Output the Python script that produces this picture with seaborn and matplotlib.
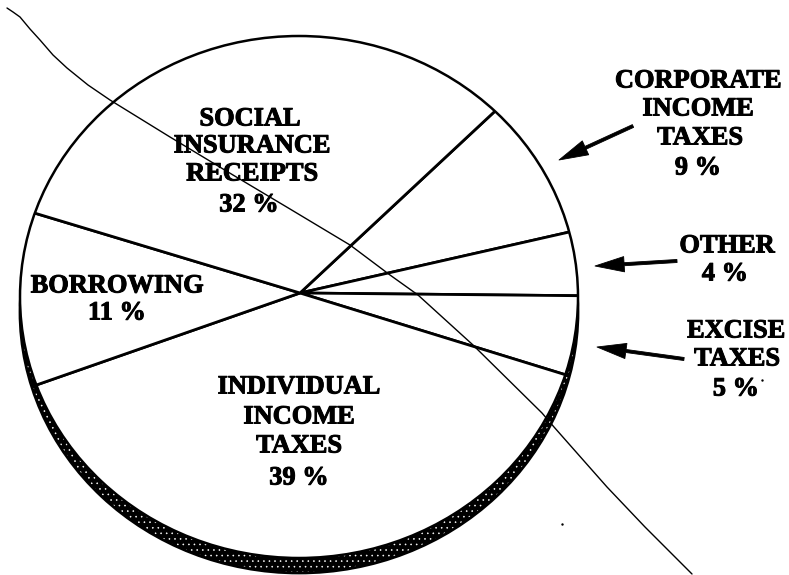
import numpy as np
import pandas as pd
import matplotlib
matplotlib.use('Agg')
import matplotlib.pyplot as plt
import matplotlib.patheffects as pe
from matplotlib.patches import Ellipse
import seaborn as sns

W, H = 789, 575

# slice shares as drawn (the printed labels round these off)
categories = ['Corporate income taxes', 'Other', 'Excise taxes',
              'Individual income taxes', 'Borrowing', 'Social insurance receipts']
drawn_shares = [8.4, 3.7, 4.6, 39.9, 10.0, 33.4]

# stray line running across the page
line_x = [7, 13, 20, 30, 40, 53, 67, 88, 110, 170, 233, 290, 350, 390, 418, 473, 542, 554, 607, 645, 692]
line_y = [8, 12, 17, 29, 40, 55, 68, 85, 100, 137, 175, 209, 245, 275, 295, 345, 413, 427, 487, 527, 574]

# specks in the scan
speck_x = [562, 762]
speck_y = [524, 380]

labels = [
    ('SOCIAL', 250, 119), ('INSURANCE', 252, 146), ('RECEIPTS', 252, 174), ('32 %', 249, 205),
    ('BORROWING', 117, 286), ('11 %', 117, 313),
    ('INDIVIDUAL', 299, 387), ('INCOME', 299, 417), ('TAXES', 299, 446), ('39 %', 299, 478),
    ('CORPORATE', 698, 81), ('INCOME', 698, 109), ('TAXES', 700, 138), ('9 %', 698, 168),
    ('OTHER', 727, 246), ('4 %', 725, 274),
    ('EXCISE', 736, 331), ('TAXES', 737, 359), ('5 %', 736, 389),
]
arrows = [((633, 126), (559, 160)), ((677, 261), (595, 266)), ((684, 359), (597, 347))]

sns.set_theme(style='white')
plt.rcParams['font.family'] = ['Liberation Serif', 'DejaVu Serif']
plt.rcParams['hatch.linewidth'] = 0.4


def fy(y):
    return H - y


cx, cy, a, b = 299, 297, 279, 261
apex = (300, fy(293))
rim_depth = 15

fig = plt.figure(figsize=(W / 100, H / 100), dpi=100)
ax = fig.add_axes([0, 0, 1, 1])

df = pd.DataFrame({'x': line_x, 'y': [fy(v) for v in line_y]})

# line passes behind the rim
sns.lineplot(data=df, x='x', y='y', sort=False, color='black', linewidth=1.0, ax=ax, zorder=1)

rim = Ellipse((cx, fy(cy + rim_depth)), 2 * a, 2 * b, facecolor='black', edgecolor='white',
              hatch='...', linewidth=0, zorder=2)
ax.add_patch(rim)
ax.add_patch(Ellipse((cx, fy(cy + rim_depth)), 2 * a, 2 * b, fill=False, edgecolor='black',
                     linewidth=2.0, zorder=2))

face = Ellipse((cx, fy(cy)), 2 * a, 2 * b, facecolor='white', edgecolor='none', zorder=3)
ax.add_patch(face)

wedges, _ = ax.pie(drawn_shares, startangle=43, counterclock=False, center=apex, radius=1000,
                   colors=['white'] * len(drawn_shares),
                   wedgeprops={'edgecolor': 'black', 'linewidth': 2.0})
for w in wedges:
    w.set_zorder(3)
    w.set_clip_on(True)  # pie turns clipping off
    w.set_clip_path(face)

# same line again, on top of the face
sns.lineplot(data=df, x='x', y='y', sort=False, color='black', linewidth=1.0, ax=ax, zorder=4)
ax.lines[-1].set_clip_path(face)

ax.add_patch(Ellipse((cx, fy(cy)), 2 * a, 2 * b, fill=False, edgecolor='black',
                     linewidth=1.8, zorder=5))

sns.scatterplot(x=speck_x, y=[fy(v) for v in speck_y], color='black', s=3, linewidth=0, ax=ax, zorder=5)

for txt, x, y in labels:
    ax.text(x, fy(y), txt, ha='center', va='center', fontsize=19, fontweight='bold',
            color='black', zorder=6,
            path_effects=[pe.withStroke(linewidth=0.7, foreground='black')])

for tail, tip in arrows:
    ax.annotate('', xy=(tip[0], fy(tip[1])), xytext=(tail[0], fy(tail[1])),
                arrowprops={'width': 2.2, 'headwidth': 11, 'headlength': 21, 'shrink': 0,
                            'facecolor': 'black', 'edgecolor': 'black', 'linewidth': 0.6},
                zorder=6)

ax.set_aspect('auto')
ax.set_xlim(0, W)
ax.set_ylim(0, H)
ax.set_xlabel('')
ax.set_ylabel('')
ax.axis('off')

fig.savefig('out.png', dpi=100)
